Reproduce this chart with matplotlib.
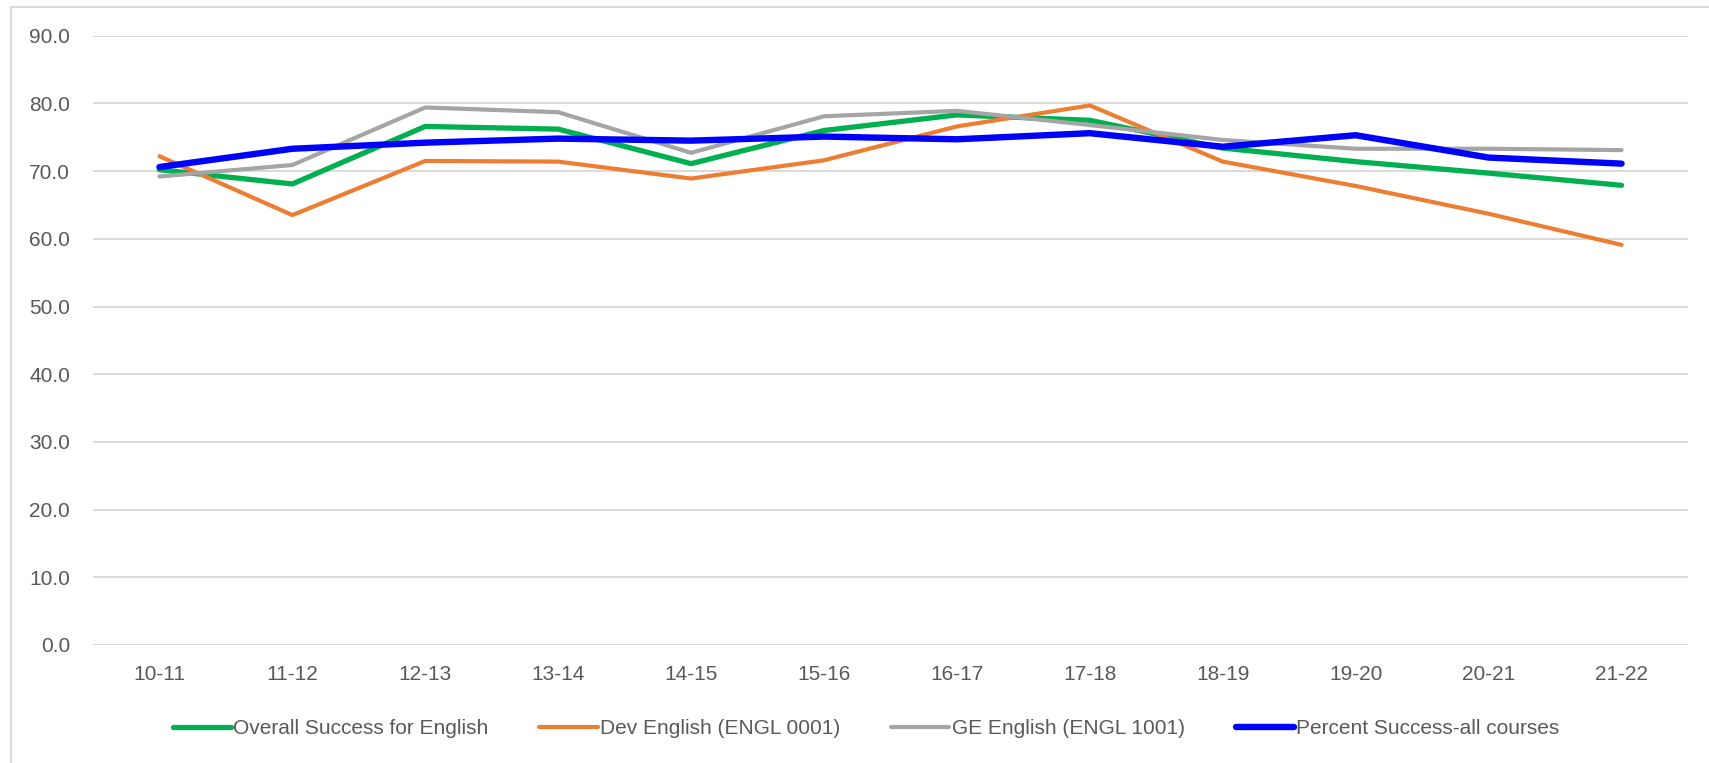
import matplotlib
matplotlib.use("Agg")
import matplotlib.pyplot as plt
from matplotlib.lines import Line2D

plt.rcParams['font.family'] = ['Liberation Sans', 'DejaVu Sans']

years = ["10-11", "11-12", "12-13", "13-14", "14-15", "15-16",
         "16-17", "17-18", "18-19", "19-20", "20-21", "21-22"]
overall = [70.2, 68.1, 76.6, 76.2, 71.1, 76.0, 78.3, 77.5, 73.4, 71.4, 69.7, 67.9]
dev = [72.2, 63.5, 71.5, 71.4, 68.9, 71.6, 76.6, 79.7, 71.4, 67.8, 63.7, 59.1]
ge = [69.2, 70.9, 79.4, 78.7, 72.7, 78.1, 78.9, 76.8, 74.6, 73.3, 73.3, 73.1]
allc = [70.6, 73.3, 74.2, 74.8, 74.5, 75.1, 74.7, 75.6, 73.6, 75.3, 72.0, 71.1]
labels = ["Overall Success for English", "Dev English (ENGL 0001)",
          "GE English (ENGL 1001)", "Percent Success-all courses"]
yticks = [0, 10, 20, 30, 40, 50, 60, 70, 80, 90]

W, H = 1709, 763
fig = plt.figure(figsize=(W / 100, H / 100), dpi=100)
ax = fig.add_axes([93 / W, 1 - 645 / H, (1688 - 93) / W, (645 - 35.7) / H])

x = list(range(len(years)))
styles = [("#00B050", 3.8), ("#ED7D31", 3.0), ("#A5A5A5", 3.0), ("#0000FF", 4.6)]
for series, (c, lw), lab in zip([overall, dev, ge, allc], styles, labels):
    ax.plot(x, series, color=c, lw=lw, label=lab,
            solid_capstyle='round', solid_joinstyle='round')

ax.set_xlim(-0.5, len(years) - 0.5)
ax.set_ylim(0, 90)
ax.set_yticks(yticks)
ax.set_yticklabels([f"{v:.1f}" for v in yticks])
ax.set_xticks(x)
ax.set_xticklabels(years)
ax.grid(axis='y', color='#D9D9D9', lw=1.4)
ax.set_axisbelow(True)
for s in ax.spines.values():
    s.set_visible(False)
ax.tick_params(axis='both', length=0, labelsize=15, colors='#595959')
ax.tick_params(axis='x', pad=14.4)
ax.tick_params(axis='y', pad=16.6)

leg = fig.legend(loc='center', bbox_to_anchor=(866 / W, 1 - 729 / H), ncol=4,
                 frameon=False, fontsize=15, handlelength=2.8, handletextpad=0.1,
                 columnspacing=2.45, labelcolor='#595959')
for h in leg.get_lines():
    h.set_solid_capstyle('round')

# chart-area border
fig.add_artist(Line2D([11 / W, 11 / W], [0, 1 - 6.7 / H], color='#D9D9D9', lw=1.5,
                      transform=fig.transFigure))
fig.add_artist(Line2D([11 / W, 1], [1 - 6.7 / H, 1 - 6.7 / H], color='#D9D9D9', lw=1.5,
                      transform=fig.transFigure))

fig.savefig("out.png", dpi=100, facecolor='white')
